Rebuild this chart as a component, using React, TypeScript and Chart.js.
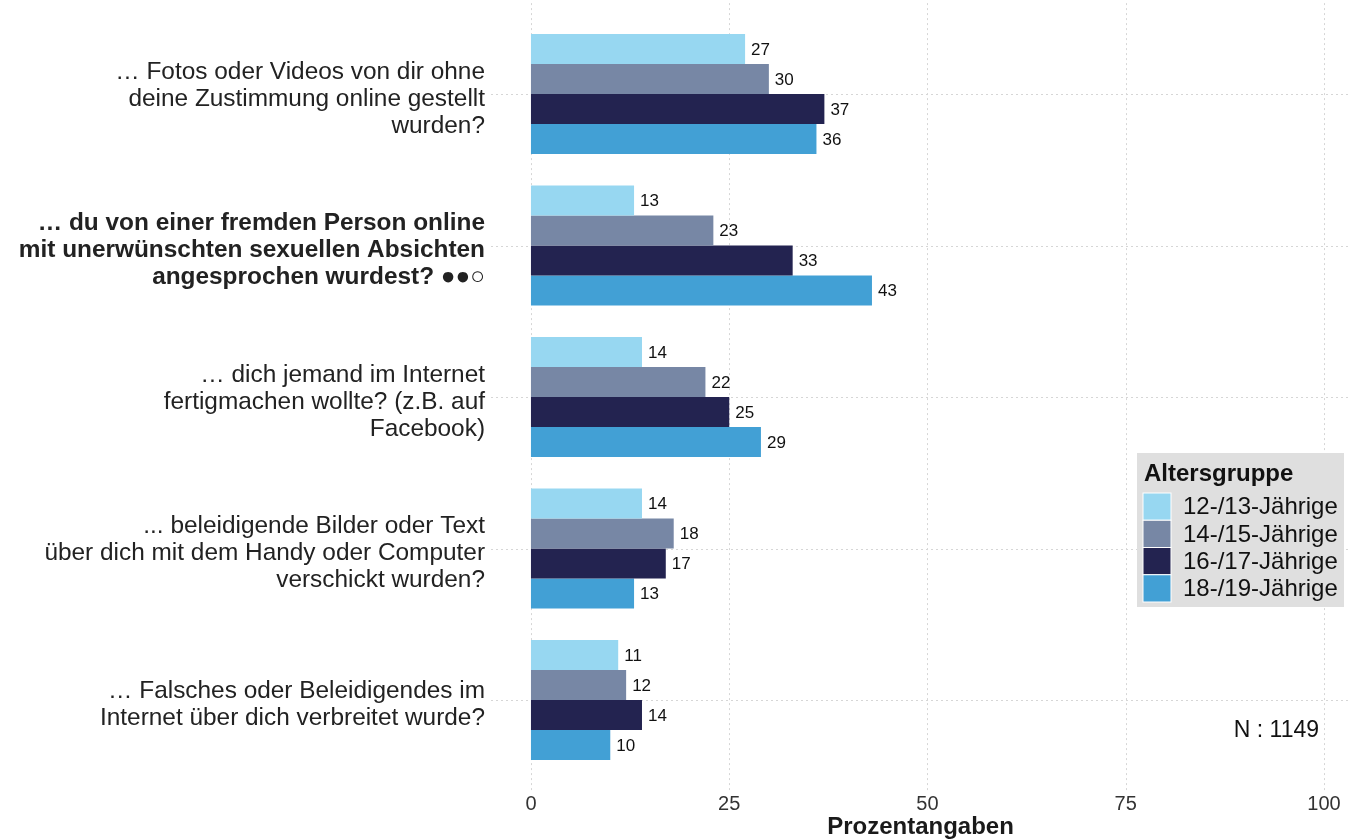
import React, { useEffect, useRef } from "react";
import { Chart, registerables } from "chart.js";

Chart.register(...registerables);

const categories: string[][] = [
  ["… Fotos oder Videos von dir ohne", "deine Zustimmung online gestellt", "wurden?"],
  ["… du von einer fremden Person online", "mit unerwünschten sexuellen Absichten", "angesprochen wurdest? ●●○"],
  ["… dich jemand im Internet", "fertigmachen wollte? (z.B. auf", "Facebook)"],
  ["... beleidigende Bilder oder Text", "über dich mit dem Handy oder Computer", "verschickt wurden?"],
  ["… Falsches oder Beleidigendes im", "Internet über dich verbreitet wurde?"],
];
const seriesNames = ["12-/13-Jährige", "14-/15-Jährige", "16-/17-Jährige", "18-/19-Jährige"];
const age1213 = [27, 13, 14, 14, 11];
const age1415 = [30, 23, 22, 18, 12];
const age1617 = [37, 33, 25, 17, 14];
const age1819 = [36, 43, 29, 13, 10];
const xTicks = [0, 25, 50, 75, 100];
const seriesColors = ["#97D7F1", "#7787A5", "#232350", "#42A0D5"];
const legendTitle = "Altersgruppe";
const xTitle = "Prozentangaben";
const nNote = "N : 1149";
const boldCategory = 1;

const FONT = "'Liberation Sans', Arial, Helvetica, sans-serif";

function zeroPadding(s: any) {
  s.paddingTop = 0;
  s.paddingBottom = 0;
  s.paddingLeft = 0;
  s.paddingRight = 0;
}

export default function App() {
  const canvasRef = useRef<HTMLCanvasElement | null>(null);

  useEffect(() => {
    const canvas = canvasRef.current;
    if (!canvas) return;

    const gridPlugin = {
      id: "customGrid",
      beforeDatasetsDraw(chart: any) {
        const ctx = chart.ctx;
        const xs = chart.scales.x;
        const ys = chart.scales.y;
        const band = (ys.bottom - ys.top) / categories.length;
        ctx.save();
        ctx.strokeStyle = "#d6d6d6";
        ctx.lineWidth = 1;
        ctx.setLineDash([2, 3]);
        for (const v of xTicks) {
          const px = Math.round(xs.getPixelForValue(v)) + 0.5;
          ctx.beginPath();
          ctx.moveTo(px, ys.top - band * 0.1);
          ctx.lineTo(px, ys.bottom + band * 0.1);
          ctx.stroke();
        }
        for (let i = 0; i < categories.length; i++) {
          const py = Math.round(ys.getPixelForTick(i)) + 0.5;
          ctx.beginPath();
          ctx.moveTo(xs.left, py);
          ctx.lineTo(xs.right, py);
          ctx.stroke();
        }
        ctx.restore();
      },
    };

    const labelPlugin = {
      id: "valueLabels",
      afterDatasetsDraw(chart: any) {
        const ctx = chart.ctx;
        ctx.save();
        ctx.font = `17px ${FONT}`;
        ctx.fillStyle = "#111";
        ctx.textAlign = "left";
        ctx.textBaseline = "middle";
        chart.data.datasets.forEach((ds: any, di: number) => {
          const meta = chart.getDatasetMeta(di);
          meta.data.forEach((bar: any, i: number) => {
            ctx.fillText(String(ds.data[i]), bar.x + 6, bar.y + 1);
          });
        });
        ctx.restore();
      },
    };

    const legendPlugin = {
      id: "customLegend",
      afterDraw(chart: any) {
        const ctx = chart.ctx;
        ctx.save();
        const bx = 1137, by = 453, bw = 207, bh = 154;
        ctx.fillStyle = "#DFDFDF";
        ctx.fillRect(bx, by, bw, bh);
        ctx.fillStyle = "#111";
        ctx.font = `bold 24px ${FONT}`;
        ctx.textAlign = "left";
        ctx.textBaseline = "alphabetic";
        ctx.fillText(legendTitle, 1144, 481);
        const sh = 27.25;
        chart.data.datasets.forEach((ds: any, i: number) => {
          const sy = 493 + i * sh;
          ctx.fillStyle = ds.backgroundColor;
          ctx.fillRect(1143, sy, 28, sh);
          ctx.strokeStyle = "#ffffff";
          ctx.lineWidth = 1;
          ctx.strokeRect(1143, sy, 28, sh);
          ctx.fillStyle = "#111";
          ctx.font = `24px ${FONT}`;
          ctx.textBaseline = "middle";
          ctx.fillText(ds.label, 1183, sy + sh / 2 + 1);
        });
        ctx.font = `23px ${FONT}`;
        ctx.textAlign = "right";
        ctx.textBaseline = "middle";
        ctx.fillStyle = "#111";
        ctx.fillText(nNote, 1319, 731);
        ctx.restore();
      },
    };

    const seriesData = [age1213, age1415, age1617, age1819];

    const chart = new Chart(canvas, {
      type: "bar",
      data: {
        labels: categories as any,
        datasets: seriesData.map((d, i) => ({
          label: seriesNames[i],
          data: d,
          backgroundColor: seriesColors[i],
          borderWidth: 0,
          categoryPercentage: 0.792,
          barPercentage: 1,
        })),
      },
      options: {
        indexAxis: "y",
        responsive: true,
        maintainAspectRatio: false,
        animation: false,
        layout: { padding: { top: 18.25, right: 0, bottom: 0, left: 0 } },
        plugins: {
          legend: { display: false },
          tooltip: { enabled: false },
        },
        scales: {
          x: {
            type: "linear",
            min: -5.04,
            max: 103.28,
            grid: { display: false, drawTicks: false },
            border: { display: false },
            afterBuildTicks: (s: any) => {
              s.ticks = xTicks.map((v) => ({ value: v }));
            },
            afterFit: (s: any) => {
              s.height = 63.25;
              zeroPadding(s);
            },
            ticks: {
              padding: 16.75,
              color: "#333",
              font: { family: FONT, size: 20, lineHeight: 1.2 },
              maxRotation: 0,
            },
            title: {
              display: true,
              text: xTitle,
              color: "#1a1a1a",
              font: { family: FONT, size: 24, weight: "bold", lineHeight: 1.0 },
              padding: { top: 0, bottom: 0 },
            },
          },
          y: {
            type: "category",
            offset: true,
            grid: { display: false, drawTicks: false },
            border: { display: false },
            afterFit: (s: any) => {
              s.width = 491;
              zeroPadding(s);
            },
            ticks: {
              padding: 6,
              labelOffset: 5,
              color: "#222",
              font: (c: any) => ({
                family: FONT,
                size: 24.4,
                lineHeight: 1.1,
                weight: c.index === boldCategory ? "bold" : "normal",
              }),
            },
          },
        },
      },
      plugins: [gridPlugin, labelPlugin, legendPlugin],
    } as any);

    return () => chart.destroy();
  }, []);

  return (
    <div style={{ position: "fixed", left: 0, top: 0, width: 1350, height: 839, background: "#fff" }}>
      <canvas ref={canvasRef} />
    </div>
  );
}
